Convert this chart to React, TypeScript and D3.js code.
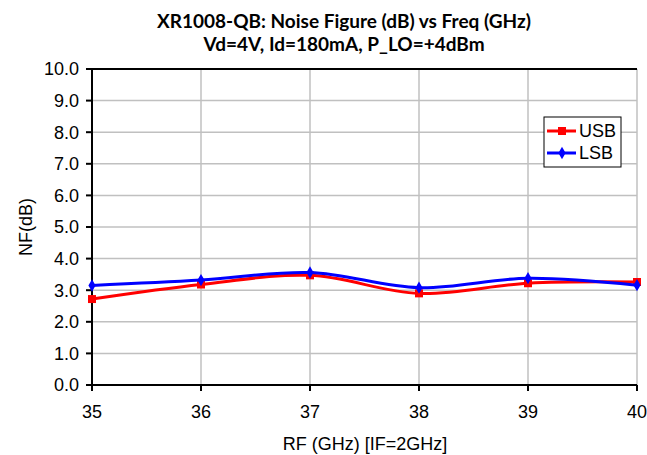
import { useMemo } from "react"
import { scaleLinear, line as d3Line, curveCardinal, symbol, symbolSquare, symbolDiamond } from "d3"

const freqs = [35, 36, 37, 38, 39, 40]
const usbValues = [2.72, 3.18, 3.47, 2.9, 3.22, 3.26]
const lsbValues = [3.15, 3.32, 3.56, 3.08, 3.38, 3.16]
const yTickValues = [0, 1, 2, 3, 4, 5, 6, 7, 8, 9, 10]
const titleLines = ["XR1008-QB: Noise Figure (dB) vs Freq (GHz)", "Vd=4V, Id=180mA, P_LO=+4dBm"]

const series = [
  { key: "USB", values: usbValues, color: "#ff0000", shape: symbolSquare, size: 64 },
  { key: "LSB", values: lsbValues, color: "#0000ff", shape: symbolDiamond, size: 44 },
]

export default function App() {
  const width = 647
  const height = 455
  const margin = { top: 69, right: 10, bottom: 70, left: 92 }
  const innerWidth = width - margin.left - margin.right
  const innerHeight = height - margin.top - margin.bottom

  const x = useMemo(() => scaleLinear().domain([35, 40]).range([0, innerWidth]), [innerWidth])
  const y = useMemo(() => scaleLinear().domain([0, 10]).range([innerHeight, 0]), [innerHeight])

  const paths = series.map((s) => {
    const gen = d3Line<number>()
      .x((_, i) => x(freqs[i]))
      .y((v) => y(v))
      .curve(curveCardinal.tension(0))
    return { ...s, d: gen(s.values) ?? "", marker: symbol(s.shape, s.size)() ?? "" }
  })

  const font = "'Liberation Sans', Arial, sans-serif"

  return (
    <svg width={width} height={height} style={{ position: "absolute", left: 0, top: 0, background: "#fff" }}>
      {titleLines.map((t, i) => (
        <text key={t} x={344} y={28 + i * 23} textAnchor="middle" fontFamily="Lato, sans-serif" fontWeight="bold" fontSize={19} fill="#000">
          {t}
        </text>
      ))}
      <g transform={`translate(${margin.left},${margin.top})`}>
        {yTickValues.map((t) => (
          <line key={`gy${t}`} x1={0} x2={innerWidth} y1={y(t)} y2={y(t)} stroke="#c0c0c0" strokeWidth={1.5} />
        ))}
        {freqs.map((f) => (
          <line key={`gx${f}`} x1={x(f)} x2={x(f)} y1={0} y2={innerHeight} stroke="#c0c0c0" strokeWidth={1.5} />
        ))}
        <line x1={0} x2={innerWidth} y1={0} y2={0} stroke="#000" strokeWidth={2} />
        <line x1={0} x2={0} y1={0} y2={innerHeight} stroke="#000" strokeWidth={2} />
        <line x1={0} x2={innerWidth} y1={innerHeight} y2={innerHeight} stroke="#000" strokeWidth={2} />
        {yTickValues.map((t) => (
          <g key={`ty${t}`}>
            <line x1={-6} x2={0} y1={y(t)} y2={y(t)} stroke="#000" strokeWidth={2} />
            <text x={-13} y={y(t)} dy="0.35em" textAnchor="end" fontFamily={font} fontSize={18} fill="#000">
              {t.toFixed(1)}
            </text>
          </g>
        ))}
        {freqs.map((f) => (
          <g key={`tx${f}`}>
            <line x1={x(f)} x2={x(f)} y1={innerHeight} y2={innerHeight + 6} stroke="#000" strokeWidth={2} />
            <text x={x(f)} y={innerHeight + 33} textAnchor="middle" fontFamily={font} fontSize={18} fill="#000">
              {f}
            </text>
          </g>
        ))}
        {paths.map((s) => (
          <g key={s.key}>
            <path d={s.d} fill="none" stroke={s.color} strokeWidth={3} />
            {s.values.map((v, i) => (
              <path key={i} d={s.marker} transform={`translate(${x(freqs[i])},${y(v)})`} fill={s.color} />
            ))}
          </g>
        ))}
      </g>
      <text transform="translate(32,227) rotate(-90)" textAnchor="middle" fontFamily={font} fontSize={18} fill="#000">
        NF(dB)
      </text>
      <text x={365} y={450} textAnchor="middle" fontFamily={font} fontSize={18} fill="#000">
        RF (GHz) [IF=2GHz]
      </text>
      <g transform="translate(544,117)">
        <rect x={0} y={0} width={77} height={50} fill="#fff" stroke="#000" strokeWidth={1} />
        {paths.map((s, i) => (
          <g key={s.key} transform={`translate(0,${14 + i * 22})`}>
            <line x1={3} x2={32} y1={0} y2={0} stroke={s.color} strokeWidth={3} />
            <path d={s.marker} transform="translate(18,0)" fill={s.color} />
            <text x={35} y={0} dy="0.36em" fontFamily={font} fontSize={18} fill="#000">
              {s.key}
            </text>
          </g>
        ))}
      </g>
    </svg>
  )
}
